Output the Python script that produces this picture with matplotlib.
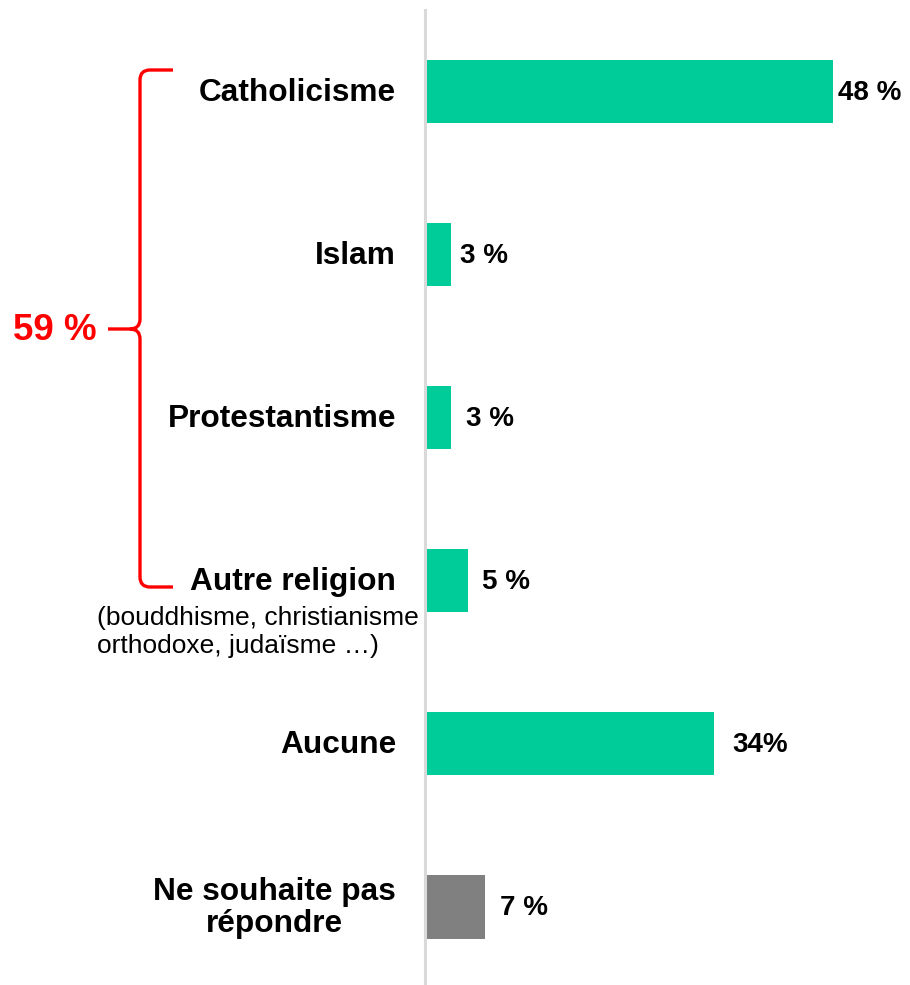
import numpy as np
import matplotlib.pyplot as plt
from matplotlib.path import Path
from matplotlib.patches import PathPatch

plt.rcParams['font.family'] = ['Liberation Sans', 'DejaVu Sans']

# Données
categories = ['Catholicisme', 'Islam', 'Protestantisme', 'Autre religion',
              'Aucune', 'Ne souhaite pas\nrépondre']
valeurs = [48, 3, 3, 5, 34, 7]
etiquettes = ['48 %', '3 %', '3 %', '5 %', '34%', '7 %']
sous_titre = '(bouddhisme, christianisme\northodoxe, judaïsme …)'
total_religions = '59 %'

vert = '#00CC99'
gris = '#808080'
couleurs = [vert, vert, vert, vert, vert, gris]
decalages = [5, 10, 16, 15, 18, 16]  # écart en pixels entre barre et valeur

W, H = 910, 985
fig = plt.figure(figsize=(W / 100, H / 100), dpi=100)

# axe principal : de x=425 px au bord droit, de y=10 px au bas
ax = fig.add_axes([425 / W, 0, 485 / W, 975 / H])
y = np.arange(len(categories))
ax.barh(y, valeurs, height=0.39, color=couleurs, edgecolor='none')
ax.set_xlim(0, 485 / 8.5)
ax.set_ylim(5.48, -0.5)

for s in ['top', 'right', 'bottom']:
    ax.spines[s].set_visible(False)
ax.spines['left'].set_color('#D9D9D9')
ax.spines['left'].set_linewidth(2.2)
ax.set_xticks([])
ax.set_yticks([])

# valeurs au bout des barres
for i, (v, lab) in enumerate(zip(valeurs, etiquettes)):
    ax.annotate(lab, xy=(v, i), xytext=(decalages[i], -1),
                textcoords='offset pixels', ha='left', va='center',
                fontsize=20, fontweight='bold', color='black')

# libellés des catégories
for i, cat in enumerate(categories):
    ax.annotate(cat, xy=(0, i), xytext=(-29, -1), textcoords='offset pixels',
                ha='right', va='center', multialignment='center',
                fontsize=22.8, fontweight='bold', color='black',
                linespacing=1.07, annotation_clip=False)

ax.annotate(sous_titre, xy=(0, 3), xytext=(-328, -51),
            textcoords='offset pixels', ha='left', va='center',
            fontsize=19, color='black', linespacing=1.2,
            annotation_clip=False)

# accolade rouge en coordonnées pixels
ov = fig.add_axes([0, 0, 1, 1])
ov.set_xlim(0, W)
ov.set_ylim(H, 0)
ov.axis('off')

xb, xt, xe = 140, 108, 173
yt, ym, yb = 70, 329, 587
r = 10
verts = [
    (xe, yt), (xb + r, yt), (xb, yt), (xb, yt + r),
    (xb, ym - r), (xb, ym), (xb - r, ym),
    (xt, ym),
    (xb - r, ym), (xb, ym), (xb, ym + r),
    (xb, yb - r), (xb, yb), (xb + r, yb), (xe, yb),
]
codes = [
    Path.MOVETO, Path.LINETO, Path.CURVE3, Path.CURVE3,
    Path.LINETO, Path.CURVE3, Path.CURVE3,
    Path.LINETO,
    Path.MOVETO, Path.CURVE3, Path.CURVE3,
    Path.LINETO, Path.CURVE3, Path.CURVE3, Path.LINETO,
]
ov.add_patch(PathPatch(Path(verts, codes), fill=False, edgecolor='#FF0000',
                       lw=2.4, capstyle='butt', joinstyle='round'))
ov.text(97, 331, total_religions, ha='right', va='center',
        fontsize=26.5, fontweight='bold', color='#FF0000')

fig.savefig('out.png', dpi=100)
